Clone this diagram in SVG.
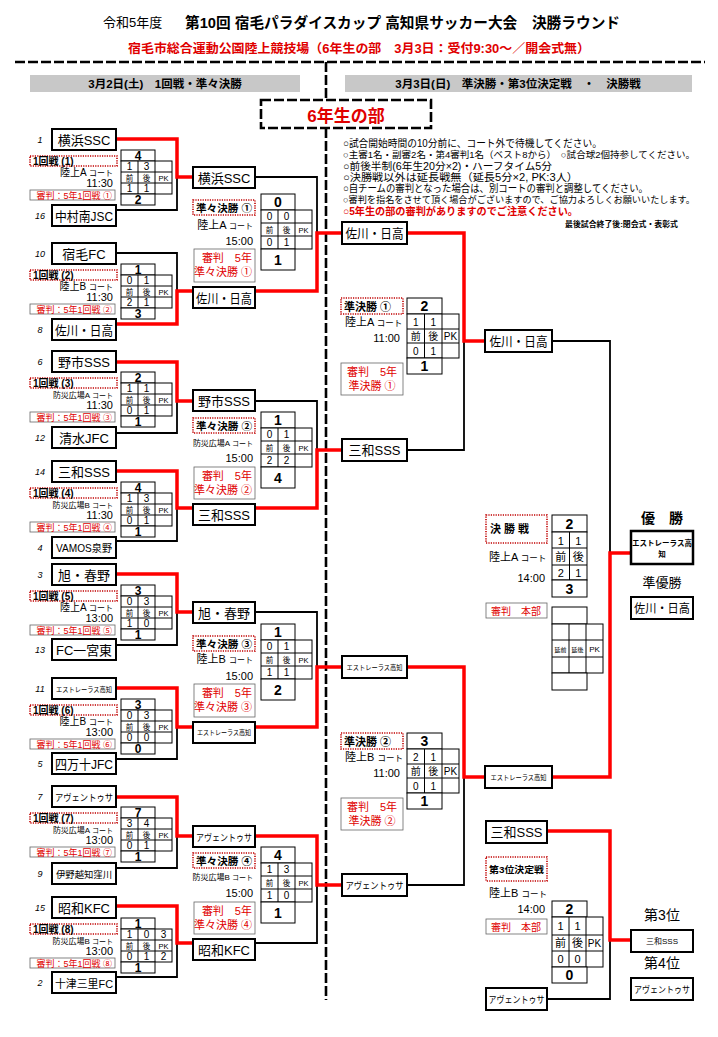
<svg xmlns="http://www.w3.org/2000/svg" width="718" height="1037" viewBox="0 0 718 1037">
<style>
text{font-family:"Liberation Sans","Noto Sans CJK JP",sans-serif;fill:#000}
.tb{fill:#fff;stroke:#000;stroke-width:2}
.tn{font-size:13px;text-anchor:middle}
.sd{font-size:9px;font-style:italic;text-anchor:middle}
.c{fill:#fff;stroke:#000;stroke-width:1}
.gl{fill:none;stroke:#000;stroke-width:1}
.v{font-size:10px;text-anchor:middle}
.h{font-size:7.5px;text-anchor:middle}
.t{font-size:12px;font-weight:bold;text-anchor:middle}
.t2{font-size:14px;font-weight:bold;text-anchor:middle}
.lb{fill:#fff;stroke:#c00000;stroke-width:1.6;stroke-dasharray:1.2 1.2}
.lt{font-size:10px;font-weight:bold}
.ct{font-size:10px;text-anchor:end}
.cts{font-size:8px;text-anchor:end}
.cl{font-size:11px}
.tm{font-size:11px;text-anchor:end}
.rb{fill:#fff;stroke:#666;stroke-width:0.8}
.rt{font-size:9px;fill:#e00000;text-anchor:end}
.rt2{font-size:11px;fill:#e00000;text-anchor:end}
.rt3{font-size:11px;fill:#e00000;text-anchor:middle}
.w{fill:none;stroke:#f00;stroke-width:3.5}
.l{fill:none;stroke:#000;stroke-width:1.8}
.dash{fill:none;stroke:#000;stroke-width:2.6;stroke-dasharray:10 3}
.note{font-size:10.5px}
.notes{font-size:9.2px}
.pl{font-size:14px;text-anchor:middle}
</style>
<rect width="718" height="1037" fill="#fff"/>

<g id="header">
<text x="103" y="27" font-size="13">令和5年度</text>
<text x="185" y="28" font-size="15" font-weight="bold" textLength="435" lengthAdjust="spacingAndGlyphs">第10回 宿毛パラダイスカップ 高知県サッカー大会　決勝ラウンド</text>
<text x="128" y="53" font-size="12.5" font-weight="bold" style="fill:#e00000" textLength="462" lengthAdjust="spacingAndGlyphs">宿毛市総合運動公園陸上競技場（6年生の部　3月3日：受付9:30～／開会式無）</text>
<path class="dash" d="M15,62 H705"/>
<path class="dash" d="M326,62 V100 M326,128 V1000"/>
<rect x="30" y="75" width="270" height="17" fill="#c8c8c8"/>
<text x="165" y="88" font-size="11.5" font-weight="bold" text-anchor="middle">3月2日(土)　1回戦・準々決勝</text>
<rect x="345" y="75" width="347" height="17" fill="#c8c8c8"/>
<text x="518" y="88" font-size="11.5" font-weight="bold" text-anchor="middle">3月3日(日)　準決勝・第3位決定戦　・　決勝戦</text>
<rect class="dash" x="261" y="100" width="170" height="28"/>
<text x="346" y="122" font-size="17" font-weight="bold" text-anchor="middle" style="fill:#e00000">6年生の部</text>
</g>

<g id="notes">
<text class="note" x="343" y="147" textLength="259" lengthAdjust="spacingAndGlyphs">○試合開始時間の10分前に、コート外で待機してください。</text>
<text class="notes" x="343" y="158" textLength="352" lengthAdjust="spacingAndGlyphs">○主審1名・副審2名・第4審判1名（ベスト8から）　○試合球2個持参してください。</text>
<text class="note" x="343" y="170" textLength="209" lengthAdjust="spacingAndGlyphs">○前後半制(6年生20分×2)・ハーフタイム5分</text>
<text class="note" x="343" y="181" textLength="235" lengthAdjust="spacingAndGlyphs">○決勝戦以外は延長戦無（延長5分×2, PK:3人）</text>
<text class="note" x="343" y="192" textLength="305" lengthAdjust="spacingAndGlyphs">○自チームの審判となった場合は、別コートの審判と調整してください。</text>
<text class="notes" x="343" y="203" textLength="352" lengthAdjust="spacingAndGlyphs">○審判を指名をさせて頂く場合がございますので、ご協力よろしくお願いいたします。</text>
<text class="note" x="343" y="215" font-weight="bold" style="fill:#e00000" textLength="235" lengthAdjust="spacingAndGlyphs">○5年生の部の審判がありますのでご注意ください。</text>
<text x="565" y="227" font-size="7.5" font-weight="bold" textLength="113" lengthAdjust="spacingAndGlyphs">最後試合終了後:閉会式・表彰式</text>
</g>

<g id="connectors">
<path class="l" d="M116,210 H177 V177"/>
<path class="l" d="M116,253 H177 V291"/>
<path class="l" d="M116,433 H177 V401"/>
<path class="l" d="M116,541 H177 V508"/>
<path class="l" d="M116,645 H177 V612"/>
<path class="l" d="M116,759 H177 V727"/>
<path class="l" d="M116,868 H177 V836"/>
<path class="l" d="M116,977 H177 V943"/>
<path class="l" d="M255,177 H317 V233"/>
<path class="l" d="M255,401 H317 V450"/>
<path class="l" d="M255,612 H317 V667"/>
<path class="l" d="M255,943 H317 V885"/>
<path class="l" d="M407,450 H464 V341"/>
<path class="l" d="M407,885 H464 V777"/>
<path class="l" d="M552,341 H610 V553"/>
<path class="l" d="M547,999 H610 V940"/>
<path class="w" d="M116,139 H177 V177 H193"/>
<path class="w" d="M116,324 H177 V291 H193"/>
<path class="w" d="M116,362 H177 V401 H193"/>
<path class="w" d="M116,471 H177 V508 H193"/>
<path class="w" d="M116,574 H177 V612 H193"/>
<path class="w" d="M116,688 H177 V727 H193"/>
<path class="w" d="M116,797 H177 V836 H193"/>
<path class="w" d="M116,906 H177 V943 H193"/>
<path class="w" d="M255,291 H317 V233 H342"/>
<path class="w" d="M255,508 H317 V450 H342"/>
<path class="w" d="M255,727 H317 V667 H342"/>
<path class="w" d="M255,836 H317 V885 H342"/>
<path class="w" d="M407,233 H464 V341 H485"/>
<path class="w" d="M407,667 H464 V777 H485"/>
<path class="w" d="M552,777 H610 V553 H631"/>
<path class="w" d="M547,831 H610 V940 H631"/>
</g>

<!-- Round 1 -->
<g id="m1">
<rect class="tb" x="52" y="129" width="64" height="21"/><text class="tn" x="84" y="144.5">横浜SSC</text><text class="sd" x="40" y="143">1</text>
<rect class="tb" x="52" y="205" width="64" height="21"/><text class="tn" x="84" y="220.5" textLength="58" lengthAdjust="spacingAndGlyphs">中村南JSC</text><text class="sd" x="40" y="219">16</text>
<rect class="lb" x="30" y="156" width="87" height="10"/><text class="lt" x="33" y="165">1回戦 (1)</text>
<text class="ct" x="113" y="176">陸上A <tspan style="font-size:8px">コート</tspan></text>
<text class="tm" x="113" y="187">11:30</text>
<rect class="rb" x="30" y="190" width="85" height="10"/><text class="rt" x="112" y="198.5">審判：5年1回戦 ①</text>
<rect class="c" x="121" y="150" width="34" height="11"/><rect class="c" x="121" y="161" width="51" height="33"/><path class="gl" d="M138,161 V194 M155,161 V194 M121,172 H172 M121,183 H172"/><rect class="c" x="121" y="194" width="34" height="11"/>
<text class="t" x="138" y="160">4</text><text class="v" x="129.5" y="170">1</text><text class="v" x="146.5" y="170">3</text>
<text class="h" x="129.5" y="180.5">前</text><text class="h" x="146.5" y="180.5">後</text><text class="h" x="163.5" y="180.5">PK</text>
<text class="v" x="129.5" y="192">1</text><text class="v" x="146.5" y="192">1</text><text class="t" x="138" y="204">2</text>
</g>

<g id="m2">
<rect class="tb" x="52" y="243" width="64" height="21"/><text class="tn" x="84" y="258.5">宿毛FC</text><text class="sd" x="40" y="257">10</text>
<rect class="tb" x="52" y="319" width="64" height="21"/><text class="tn" x="84" y="334.5" textLength="58" lengthAdjust="spacingAndGlyphs">佐川・日高</text><text class="sd" x="40" y="333">8</text>
<rect class="lb" x="30" y="270" width="87" height="10"/><text class="lt" x="33" y="279">1回戦 (2)</text>
<text class="ct" x="113" y="290">陸上B <tspan style="font-size:8px">コート</tspan></text>
<text class="tm" x="113" y="301">11:30</text>
<rect class="rb" x="30" y="304" width="85" height="10"/><text class="rt" x="112" y="312.5">審判：5年1回戦 ②</text>
<rect class="c" x="121" y="264" width="34" height="11"/><rect class="c" x="121" y="275" width="51" height="33"/><path class="gl" d="M138,275 V308 M155,275 V308 M121,286 H172 M121,297 H172"/><rect class="c" x="121" y="308" width="34" height="11"/>
<text class="t" x="138" y="274">1</text><text class="v" x="129.5" y="284">0</text><text class="v" x="146.5" y="284">1</text>
<text class="h" x="129.5" y="294.5">前</text><text class="h" x="146.5" y="294.5">後</text><text class="h" x="163.5" y="294.5">PK</text>
<text class="v" x="129.5" y="306">2</text><text class="v" x="146.5" y="306">1</text><text class="t" x="138" y="318">3</text>
</g>

<g id="m3">
<rect class="tb" x="52" y="351" width="64" height="21"/><text class="tn" x="84" y="366.5">野市SSS</text><text class="sd" x="40" y="365">6</text>
<rect class="tb" x="52" y="427" width="64" height="21"/><text class="tn" x="84" y="442.5">清水JFC</text><text class="sd" x="40" y="441">12</text>
<rect class="lb" x="30" y="378" width="87" height="10"/><text class="lt" x="33" y="387">1回戦 (3)</text>
<text class="cts" x="113" y="398">防災広場A <tspan style="font-size:7px">コート</tspan></text>
<text class="tm" x="113" y="409">11:30</text>
<rect class="rb" x="30" y="412" width="85" height="10"/><text class="rt" x="112" y="420.5">審判：5年1回戦 ③</text>
<rect class="c" x="121" y="372" width="34" height="11"/><rect class="c" x="121" y="383" width="51" height="33"/><path class="gl" d="M138,383 V416 M155,383 V416 M121,394 H172 M121,405 H172"/><rect class="c" x="121" y="416" width="34" height="11"/>
<text class="t" x="138" y="382">2</text><text class="v" x="129.5" y="392">1</text><text class="v" x="146.5" y="392">1</text>
<text class="h" x="129.5" y="402.5">前</text><text class="h" x="146.5" y="402.5">後</text><text class="h" x="163.5" y="402.5">PK</text>
<text class="v" x="129.5" y="414">0</text><text class="v" x="146.5" y="414">1</text><text class="t" x="138" y="426">1</text>
</g>

<g id="m4">
<rect class="tb" x="52" y="461" width="64" height="21"/><text class="tn" x="84" y="476.5">三和SSS</text><text class="sd" x="40" y="475">14</text>
<rect class="tb" x="52" y="537" width="64" height="21"/><text class="tn" x="84" y="552" style="font-size:10.5px" textLength="56" lengthAdjust="spacingAndGlyphs">VAMOS泉野</text><text class="sd" x="40" y="551">4</text>
<rect class="lb" x="30" y="488" width="87" height="10"/><text class="lt" x="33" y="497">1回戦 (4)</text>
<text class="cts" x="113" y="508">防災広場B <tspan style="font-size:7px">コート</tspan></text>
<text class="tm" x="113" y="519">11:30</text>
<rect class="rb" x="30" y="522" width="85" height="10"/><text class="rt" x="112" y="530.5">審判：5年1回戦 ④</text>
<rect class="c" x="121" y="482" width="34" height="11"/><rect class="c" x="121" y="493" width="51" height="33"/><path class="gl" d="M138,493 V526 M155,493 V526 M121,504 H172 M121,515 H172"/><rect class="c" x="121" y="526" width="34" height="11"/>
<text class="t" x="138" y="492">4</text><text class="v" x="129.5" y="502">1</text><text class="v" x="146.5" y="502">3</text>
<text class="h" x="129.5" y="512.5">前</text><text class="h" x="146.5" y="512.5">後</text><text class="h" x="163.5" y="512.5">PK</text>
<text class="v" x="129.5" y="524">0</text><text class="v" x="146.5" y="524">1</text><text class="t" x="138" y="536">1</text>
</g>

<g id="m5">
<rect class="tb" x="52" y="564" width="64" height="21"/><text class="tn" x="84" y="579.5">旭・春野</text><text class="sd" x="40" y="578">3</text>
<rect class="tb" x="52" y="639" width="64" height="21"/><text class="tn" x="84" y="654.5" textLength="56" lengthAdjust="spacingAndGlyphs">FC一宮東</text><text class="sd" x="40" y="653">13</text>
<rect class="lb" x="30" y="591" width="87" height="10"/><text class="lt" x="33" y="600">1回戦 (5)</text>
<text class="ct" x="113" y="611">陸上A <tspan style="font-size:8px">コート</tspan></text>
<text class="tm" x="113" y="622">13:00</text>
<rect class="rb" x="30" y="625" width="85" height="10"/><text class="rt" x="112" y="633.5">審判：5年1回戦 ⑤</text>
<rect class="c" x="121" y="585" width="34" height="11"/><rect class="c" x="121" y="596" width="51" height="33"/><path class="gl" d="M138,596 V629 M155,596 V629 M121,607 H172 M121,618 H172"/><rect class="c" x="121" y="629" width="34" height="11"/>
<text class="t" x="138" y="595">3</text><text class="v" x="129.5" y="605">0</text><text class="v" x="146.5" y="605">3</text>
<text class="h" x="129.5" y="615.5">前</text><text class="h" x="146.5" y="615.5">後</text><text class="h" x="163.5" y="615.5">PK</text>
<text class="v" x="129.5" y="627">1</text><text class="v" x="146.5" y="627">0</text><text class="t" x="138" y="639">1</text>
</g>

<g id="m6">
<rect class="tb" x="52" y="678" width="64" height="21"/><text class="tn" x="84" y="691.5" style="font-size:7px" textLength="56" lengthAdjust="spacingAndGlyphs">エストレーラス高知</text><text class="sd" x="40" y="692">11</text>
<rect class="tb" x="52" y="753" width="64" height="21"/><text class="tn" x="84" y="768.5" textLength="58" lengthAdjust="spacingAndGlyphs">四万十JFC</text><text class="sd" x="40" y="767">5</text>
<rect class="lb" x="30" y="705" width="87" height="10"/><text class="lt" x="33" y="714">1回戦 (6)</text>
<text class="ct" x="113" y="725">陸上B <tspan style="font-size:8px">コート</tspan></text>
<text class="tm" x="113" y="736">13:00</text>
<rect class="rb" x="30" y="739" width="85" height="10"/><text class="rt" x="112" y="747.5">審判：5年1回戦 ⑥</text>
<rect class="c" x="121" y="699" width="34" height="11"/><rect class="c" x="121" y="710" width="51" height="33"/><path class="gl" d="M138,710 V743 M155,710 V743 M121,721 H172 M121,732 H172"/><rect class="c" x="121" y="743" width="34" height="11"/>
<text class="t" x="138" y="709">3</text><text class="v" x="129.5" y="719">0</text><text class="v" x="146.5" y="719">3</text>
<text class="h" x="129.5" y="729.5">前</text><text class="h" x="146.5" y="729.5">後</text><text class="h" x="163.5" y="729.5">PK</text>
<text class="v" x="129.5" y="741">0</text><text class="v" x="146.5" y="741">0</text><text class="t" x="138" y="753">0</text>
</g>

<g id="m7">
<rect class="tb" x="52" y="786" width="64" height="21"/><text class="tn" x="84" y="800.5" style="font-size:9.5px" textLength="58" lengthAdjust="spacingAndGlyphs">アヴェントゥサ</text><text class="sd" x="40" y="800">7</text>
<rect class="tb" x="52" y="863" width="64" height="21"/><text class="tn" x="84" y="877.5" style="font-size:9.5px" textLength="56" lengthAdjust="spacingAndGlyphs">伊野越知窪川</text><text class="sd" x="40" y="877">9</text>
<rect class="lb" x="30" y="813" width="87" height="10"/><text class="lt" x="33" y="822">1回戦 (7)</text>
<text class="cts" x="113" y="833">防災広場A <tspan style="font-size:7px">コート</tspan></text>
<text class="tm" x="113" y="844">13:00</text>
<rect class="rb" x="30" y="847" width="85" height="10"/><text class="rt" x="112" y="855.5">審判：5年1回戦 ⑦</text>
<rect class="c" x="121" y="807" width="34" height="11"/><rect class="c" x="121" y="818" width="51" height="33"/><path class="gl" d="M138,818 V851 M155,818 V851 M121,829 H172 M121,840 H172"/><rect class="c" x="121" y="851" width="34" height="11"/>
<text class="t" x="138" y="817">7</text><text class="v" x="129.5" y="827">3</text><text class="v" x="146.5" y="827">4</text>
<text class="h" x="129.5" y="837.5">前</text><text class="h" x="146.5" y="837.5">後</text><text class="h" x="163.5" y="837.5">PK</text>
<text class="v" x="129.5" y="849">0</text><text class="v" x="146.5" y="849">1</text><text class="t" x="138" y="861">1</text>
</g>

<g id="m8">
<rect class="tb" x="52" y="897" width="64" height="21"/><text class="tn" x="84" y="912.5">昭和KFC</text><text class="sd" x="40" y="911">15</text>
<rect class="tb" x="52" y="972" width="64" height="21"/><text class="tn" x="84" y="987.5" style="font-size:11.5px" textLength="58" lengthAdjust="spacingAndGlyphs">十津三里FC</text><text class="sd" x="40" y="986">2</text>
<rect class="lb" x="30" y="924" width="87" height="10"/><text class="lt" x="33" y="933">1回戦 (8)</text>
<text class="cts" x="113" y="944">防災広場B <tspan style="font-size:7px">コート</tspan></text>
<text class="tm" x="113" y="955">13:00</text>
<rect class="rb" x="30" y="958" width="85" height="10"/><text class="rt" x="112" y="966.5">審判：5年1回戦 ⑧</text>
<rect class="c" x="121" y="918" width="34" height="11"/><rect class="c" x="121" y="929" width="51" height="33"/><path class="gl" d="M138,929 V962 M155,929 V962 M121,940 H172 M121,951 H172"/><rect class="c" x="121" y="962" width="34" height="11"/>
<text class="t" x="138" y="928">1</text><text class="v" x="129.5" y="938">1</text><text class="v" x="146.5" y="938">0</text><text class="v" x="163.5" y="938">3</text>
<text class="h" x="129.5" y="948.5">前</text><text class="h" x="146.5" y="948.5">後</text><text class="h" x="163.5" y="948.5">PK</text>
<text class="v" x="129.5" y="960">0</text><text class="v" x="146.5" y="960">1</text><text class="v" x="163.5" y="960">2</text><text class="t" x="138" y="972">1</text>
</g>

<!-- Quarter finals -->
<g id="qf1">
<rect class="tb" x="193" y="167" width="62" height="21"/><text class="tn" x="224" y="182.5">横浜SSC</text>
<rect class="tb" x="193" y="287" width="62" height="21"/><text class="tn" x="224" y="302.5" textLength="56" lengthAdjust="spacingAndGlyphs">佐川・日高</text>
<rect class="lb" x="193" y="200" width="62" height="15"/><text class="lt" x="196" y="211.5" textLength="56" lengthAdjust="spacingAndGlyphs">準々決勝 ①</text>
<text class="ct" x="253" y="229"><tspan class="cl">陸上A </tspan><tspan style="font-size:8px">コート</tspan></text>
<text class="tm" x="253" y="245">15:00</text>
<rect class="rb" x="194" y="249" width="61" height="33"/><text class="rt2" x="252" y="262">審判　5年</text><text class="rt2" x="252" y="276">準々決勝 ①</text>
<rect class="c" x="261" y="194" width="34" height="16"/><rect class="c" x="261" y="210" width="51" height="39"/><path class="gl" d="M278,210 V249 M295,210 V249 M261,223 H312 M261,236 H312"/><rect class="c" x="261" y="249" width="34" height="21"/>
<text class="t2" x="278" y="207">0</text><text class="v" x="269.5" y="220">0</text><text class="v" x="286.5" y="220">0</text>
<text class="h" x="269.5" y="232.5">前</text><text class="h" x="286.5" y="232.5">後</text><text class="h" x="303.5" y="232.5">PK</text>
<text class="v" x="269.5" y="246">0</text><text class="v" x="286.5" y="246">1</text><text class="t2" x="278" y="265">1</text>
</g>

<g id="qf2">
<rect class="tb" x="193" y="390" width="62" height="21"/><text class="tn" x="224" y="405.5">野市SSS</text>
<rect class="tb" x="193" y="504" width="62" height="21"/><text class="tn" x="224" y="519.5">三和SSS</text>
<rect class="lb" x="193" y="418" width="62" height="15"/><text class="lt" x="196" y="429.5" textLength="56" lengthAdjust="spacingAndGlyphs">準々決勝 ②</text>
<text class="cts" x="253" y="446">防災広場A <tspan style="font-size:7px">コート</tspan></text>
<text class="tm" x="253" y="462">15:00</text>
<rect class="rb" x="194" y="467" width="61" height="32"/><text class="rt2" x="252" y="480">審判　5年</text><text class="rt2" x="252" y="494">準々決勝 ②</text>
<rect class="c" x="261" y="412" width="34" height="16"/><rect class="c" x="261" y="428" width="51" height="39"/><path class="gl" d="M278,428 V467 M295,428 V467 M261,441 H312 M261,454 H312"/><rect class="c" x="261" y="467" width="34" height="21"/>
<text class="t2" x="278" y="425">1</text><text class="v" x="269.5" y="438">0</text><text class="v" x="286.5" y="438">1</text>
<text class="h" x="269.5" y="450.5">前</text><text class="h" x="286.5" y="450.5">後</text><text class="h" x="303.5" y="450.5">PK</text>
<text class="v" x="269.5" y="464">2</text><text class="v" x="286.5" y="464">2</text><text class="t2" x="278" y="483">4</text>
</g>

<g id="qf3">
<rect class="tb" x="193" y="602" width="62" height="21"/><text class="tn" x="224" y="617.5">旭・春野</text>
<rect class="tb" x="193" y="722" width="62" height="21"/><text class="tn" x="224" y="735" style="font-size:7px" textLength="54" lengthAdjust="spacingAndGlyphs">エストレーラス高知</text>
<rect class="lb" x="193" y="636" width="62" height="15"/><text class="lt" x="196" y="647.5" textLength="56" lengthAdjust="spacingAndGlyphs">準々決勝 ③</text>
<text class="ct" x="253" y="663"><tspan class="cl">陸上B </tspan><tspan style="font-size:8px">コート</tspan></text>
<text class="tm" x="253" y="680">15:00</text>
<rect class="rb" x="194" y="684" width="61" height="33"/><text class="rt2" x="252" y="697">審判　5年</text><text class="rt2" x="252" y="711">準々決勝 ③</text>
<rect class="c" x="261" y="624" width="34" height="16"/><rect class="c" x="261" y="640" width="51" height="39"/><path class="gl" d="M278,640 V679 M295,640 V679 M261,653 H312 M261,666 H312"/><rect class="c" x="261" y="679" width="34" height="21"/>
<text class="t2" x="278" y="637">1</text><text class="v" x="269.5" y="650">0</text><text class="v" x="286.5" y="650">1</text>
<text class="h" x="269.5" y="662.5">前</text><text class="h" x="286.5" y="662.5">後</text><text class="h" x="303.5" y="662.5">PK</text>
<text class="v" x="269.5" y="676">1</text><text class="v" x="286.5" y="676">1</text><text class="t2" x="278" y="695">2</text>
</g>

<g id="qf4">
<rect class="tb" x="193" y="826" width="62" height="21"/><text class="tn" x="224" y="840.5" style="font-size:9.5px" textLength="56" lengthAdjust="spacingAndGlyphs">アヴェントゥサ</text>
<rect class="tb" x="193" y="939" width="62" height="21"/><text class="tn" x="224" y="954.5">昭和KFC</text>
<rect class="lb" x="193" y="853" width="62" height="15"/><text class="lt" x="196" y="864.5" textLength="56" lengthAdjust="spacingAndGlyphs">準々決勝 ④</text>
<text class="cts" x="253" y="880">防災広場B <tspan style="font-size:7px">コート</tspan></text>
<text class="tm" x="253" y="897">15:00</text>
<rect class="rb" x="194" y="902" width="61" height="32"/><text class="rt2" x="252" y="915">審判　5年</text><text class="rt2" x="252" y="929">準々決勝 ④</text>
<rect class="c" x="261" y="847" width="34" height="16"/><rect class="c" x="261" y="863" width="51" height="39"/><path class="gl" d="M278,863 V902 M295,863 V902 M261,876 H312 M261,889 H312"/><rect class="c" x="261" y="902" width="34" height="21"/>
<text class="t2" x="278" y="860">4</text><text class="v" x="269.5" y="873">1</text><text class="v" x="286.5" y="873">3</text>
<text class="h" x="269.5" y="885.5">前</text><text class="h" x="286.5" y="885.5">後</text><text class="h" x="303.5" y="885.5">PK</text>
<text class="v" x="269.5" y="899">1</text><text class="v" x="286.5" y="899">0</text><text class="t2" x="278" y="918">1</text>
</g>

<!-- Semi finals -->
<g id="sf1">
<rect class="tb" x="342" y="222" width="65" height="22"/><text class="tn" x="374.5" y="237.5" textLength="58" lengthAdjust="spacingAndGlyphs">佐川・日高</text>
<rect class="tb" x="342" y="439" width="65" height="22"/><text class="tn" x="374.5" y="454.5">三和SSS</text>
<rect class="lb" x="341" y="298" width="62" height="16"/><text class="lt" x="344" y="310.5" style="font-size:11px">準決勝 ①</text>
<text x="345" y="326"><tspan class="cl">陸上A </tspan><tspan style="font-size:8.5px">コート</tspan></text>
<text class="tm" x="400" y="342">11:00</text>
<rect class="rb" x="341" y="363" width="62" height="32"/><text class="rt3" x="372" y="376">審判　5年</text><text class="rt3" x="372" y="390">準決勝 ①</text>
<rect class="c" x="407" y="298" width="35" height="16"/><rect class="c" x="407" y="314" width="52" height="44"/><path class="gl" d="M424.5,314 V358 M442,314 V358 M407,329 H459 M407,343 H459"/><rect class="c" x="407" y="358" width="35" height="16"/>
<text class="t2" x="424.5" y="311">2</text><text class="v" x="415.75" y="326">1</text><text class="v" x="433.25" y="326">1</text>
<text class="v" x="415.75" y="340">前</text><text class="v" x="433.25" y="340">後</text><text class="v" x="450.5" y="340">PK</text>
<text class="v" x="415.75" y="355">0</text><text class="v" x="433.25" y="355">1</text><text class="t2" x="424.5" y="371">1</text>
</g>

<g id="sf2">
<rect class="tb" x="342" y="656" width="65" height="22"/><text class="tn" x="374.5" y="670" style="font-size:7px" textLength="56" lengthAdjust="spacingAndGlyphs">エストレーラス高知</text>
<rect class="tb" x="342" y="874" width="65" height="22"/><text class="tn" x="374.5" y="889" style="font-size:9.5px" textLength="58" lengthAdjust="spacingAndGlyphs">アヴェントゥサ</text>
<rect class="lb" x="341" y="733" width="62" height="16"/><text class="lt" x="344" y="745.5" style="font-size:11px">準決勝 ②</text>
<text x="345" y="761"><tspan class="cl">陸上B </tspan><tspan style="font-size:8.5px">コート</tspan></text>
<text class="tm" x="400" y="777">11:00</text>
<rect class="rb" x="341" y="798" width="62" height="32"/><text class="rt3" x="372" y="811">審判　5年</text><text class="rt3" x="372" y="825">準決勝 ②</text>
<rect class="c" x="407" y="733" width="35" height="16"/><rect class="c" x="407" y="749" width="52" height="44"/><path class="gl" d="M424.5,749 V793 M442,749 V793 M407,764 H459 M407,778 H459"/><rect class="c" x="407" y="793" width="35" height="16"/>
<text class="t2" x="424.5" y="746">3</text><text class="v" x="415.75" y="761">2</text><text class="v" x="433.25" y="761">1</text>
<text class="v" x="415.75" y="775">前</text><text class="v" x="433.25" y="775">後</text><text class="v" x="450.5" y="775">PK</text>
<text class="v" x="415.75" y="790">0</text><text class="v" x="433.25" y="790">1</text><text class="t2" x="424.5" y="806">1</text>
</g>

<!-- Final -->
<g id="sfw1"><rect class="tb" x="485" y="330" width="67" height="22"/><text class="tn" x="518.5" y="345.5" textLength="58" lengthAdjust="spacingAndGlyphs">佐川・日高</text></g>
<g id="sfw2"><rect class="tb" x="485" y="766" width="67" height="22"/><text class="tn" x="518.5" y="780" style="font-size:7px" textLength="56" lengthAdjust="spacingAndGlyphs">エストレーラス高知</text></g>

<g id="final">
<rect class="lb" x="486" y="515" width="61" height="28"/><text class="lt" x="490" y="533" style="font-size:11px">決 勝 戦</text>
<text x="489" y="561"><tspan class="cl">陸上A </tspan><tspan style="font-size:8.5px">コート</tspan></text>
<text class="tm" x="545" y="582">14:00</text>
<rect class="rb" x="486" y="603" width="61" height="15"/><text class="rt3" x="516" y="614.5" style="font-size:10px">審判　本部</text>
<rect class="c" x="552" y="515" width="35" height="17"/><rect class="c" x="552" y="532" width="35" height="48"/><path class="gl" d="M569.5,532 V580 M552,548 H587 M552,565 H587"/><rect class="c" x="552" y="580" width="35" height="17"/>
<text class="t2" x="569.5" y="528.5">2</text><text class="v" x="560.75" y="544.5" style="font-size:11px">1</text><text class="v" x="578.25" y="544.5" style="font-size:11px">1</text>
<text class="v" x="560.75" y="561" style="font-size:11px">前</text><text class="v" x="578.25" y="561" style="font-size:11px">後</text>
<text class="v" x="560.75" y="577" style="font-size:11px">2</text><text class="v" x="578.25" y="577" style="font-size:11px">1</text><text class="t2" x="569.5" y="593.5">3</text>
<rect class="c" x="552" y="607" width="35" height="17"/><rect class="c" x="552" y="624" width="51" height="49"/><path class="gl" d="M569,624 V673 M586,624 V673 M552,640 H603 M552,657 H603"/><rect class="c" x="552" y="673" width="35" height="17"/>
<text class="h" x="560.5" y="651.5" style="font-size:6px">延前</text><text class="h" x="577.5" y="651.5" style="font-size:6px">延後</text><text class="h" x="594.5" y="651.5" style="font-size:8px">PK</text>
</g>

<g id="champion">
<text class="pl" x="662" y="523" font-weight="bold">優　勝</text>
<rect x="631" y="531" width="62" height="33" fill="#fff" stroke="#000" stroke-width="2.5"/>
<text x="662" y="546" font-size="7.5" font-weight="bold" text-anchor="middle">エストレーラス高</text>
<text x="662" y="557" font-size="7.5" font-weight="bold" text-anchor="middle">知</text>
</g>
<g id="runnerup">
<text class="pl" x="662" y="587" style="font-size:13px">準優勝</text>
<rect class="tb" x="631" y="597" width="62" height="22"/><text class="tn" x="662" y="612.5" style="font-size:12px" textLength="56" lengthAdjust="spacingAndGlyphs">佐川・日高</text>
</g>

<!-- Third place -->
<g id="third-match">
<rect class="tb" x="486" y="821" width="61" height="22"/><text class="tn" x="516.5" y="836.5">三和SSS</text>
<rect class="tb" x="486" y="988" width="61" height="22"/><text class="tn" x="516.5" y="1003" style="font-size:9.5px" textLength="56" lengthAdjust="spacingAndGlyphs">アヴェントゥサ</text>
<rect class="lb" x="486" y="857" width="61" height="24"/><text class="lt" x="489" y="873" style="font-size:9.5px" textLength="55" lengthAdjust="spacingAndGlyphs">第3位決定戦</text>
<text x="489" y="897"><tspan class="cl">陸上B </tspan><tspan style="font-size:8.5px">コート</tspan></text>
<text class="tm" x="545" y="913">14:00</text>
<rect class="rb" x="486" y="919" width="61" height="15"/><text class="rt3" x="516" y="930.5" style="font-size:10px">審判　本部</text>
<rect class="c" x="552" y="901" width="35" height="16"/><rect class="c" x="552" y="917" width="51" height="50"/><path class="gl" d="M569,917 V967 M586,917 V967 M552,935 H603 M552,951 H603"/><rect class="c" x="552" y="967" width="35" height="16"/>
<text class="t2" x="569.5" y="914">2</text><text class="v" x="560.5" y="930" style="font-size:11px">1</text><text class="v" x="577.5" y="930" style="font-size:11px">1</text>
<text class="v" x="560.5" y="947" style="font-size:11px">前</text><text class="v" x="577.5" y="947" style="font-size:11px">後</text><text class="v" x="594.5" y="947">PK</text>
<text class="v" x="560.5" y="963" style="font-size:11px">0</text><text class="v" x="577.5" y="963" style="font-size:11px">0</text><text class="t2" x="569.5" y="980">0</text>
</g>
<g id="third">
<text class="pl" x="662" y="920">第3位</text>
<rect class="tb" x="631" y="930" width="62" height="22"/><text class="tn" x="662" y="944" style="font-size:8px">三和SSS</text>
</g>
<g id="fourth">
<text class="pl" x="662" y="968">第4位</text>
<rect class="tb" x="631" y="978" width="62" height="22"/><text class="tn" x="662" y="993" style="font-size:9px" textLength="56" lengthAdjust="spacingAndGlyphs">アヴェントゥサ</text>
</g>
</svg>
